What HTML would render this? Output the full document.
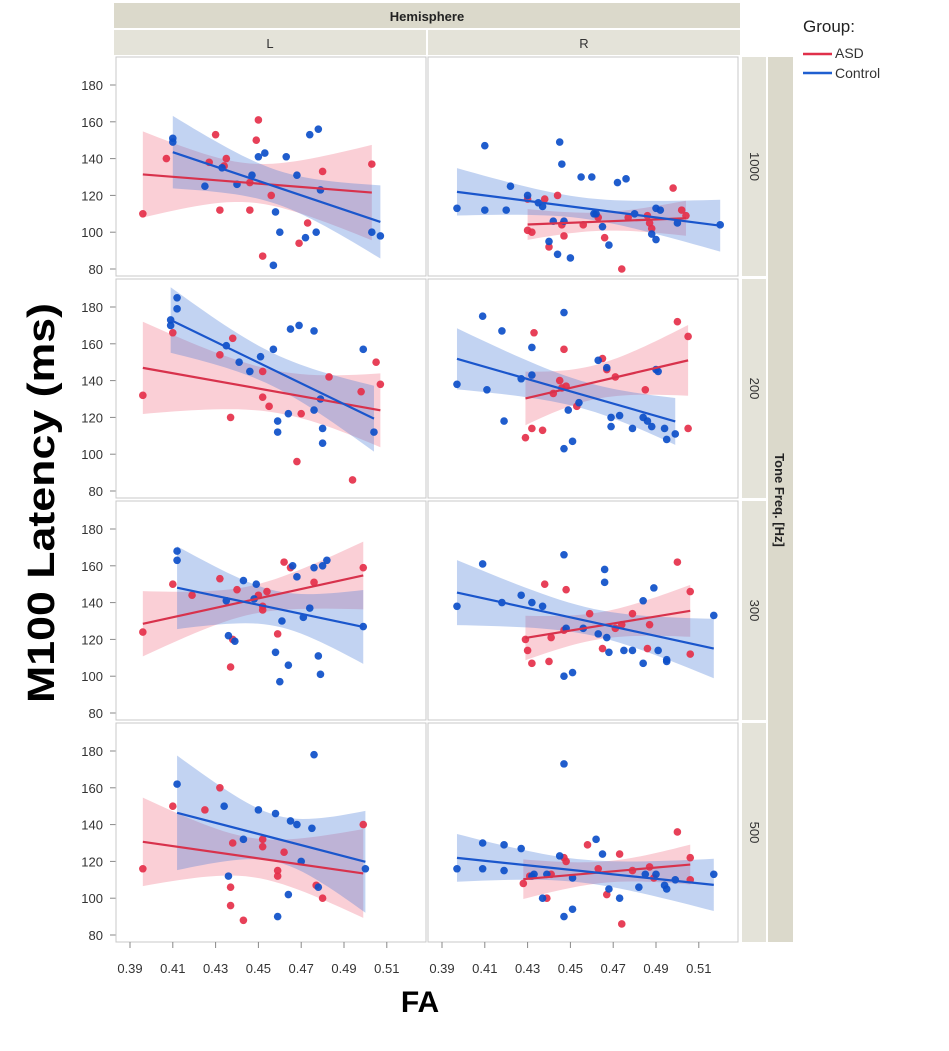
<!DOCTYPE html>
<html><head><meta charset="utf-8"><style>
html,body{margin:0;padding:0;background:#fff;}
svg{display:block;font-family:"Liberation Sans",sans-serif;}
</style></head><body>
<svg id="chart" width="949" height="1051" xmlns="http://www.w3.org/2000/svg">
<rect x="114" y="3" width="626" height="25" fill="#dbd9cb"/>
<text x="427" y="21" text-anchor="middle" font-size="13" font-weight="bold" fill="#222">Hemisphere</text>
<rect x="114" y="30" width="312" height="25" fill="#e4e3d9"/>
<rect x="428" y="30" width="312" height="25" fill="#e4e3d9"/>
<text x="270" y="48" text-anchor="middle" font-size="13" fill="#333">L</text>
<text x="584" y="48" text-anchor="middle" font-size="13" fill="#333">R</text>
<rect x="768" y="57" width="25" height="885" fill="#dbd9cb"/>
<text transform="translate(775,500) rotate(90)" text-anchor="middle" font-size="13" font-weight="bold" fill="#222">Tone Freq. [Hz]</text>
<text transform="translate(54,503) rotate(-90)" text-anchor="middle" font-size="38" font-weight="bold" fill="#000" textLength="400" lengthAdjust="spacingAndGlyphs">M100 Latency (ms)</text>
<text x="420" y="1012" text-anchor="middle" font-size="30" font-weight="bold" fill="#000">FA</text>
<g>
<text x="803" y="32" font-size="17" fill="#222">Group:</text>
<line x1="803" y1="54" x2="832" y2="54" stroke="#e0304a" stroke-width="2.5"/>
<text x="835" y="58" font-size="14" fill="#333">ASD</text>
<line x1="803" y1="73" x2="832" y2="73" stroke="#1f5fd0" stroke-width="2.5"/>
<text x="835" y="78" font-size="14" fill="#333">Control</text>
</g>
<g id="plots"></g>
</svg>
<script>
const hemis = ["L","R"];
const freqs = ["1000","200","300","500"];
const yTicks = [80,100,120,140,160,180];
const xTicks = [0.39,0.41,0.43,0.45,0.47,0.49,0.51];
const asdL1000 = [[0.396,110],[0.407,140],[0.427,138],[0.43,153],[0.432,112],[0.434,136],[0.435,140],[0.446,127],[0.446,112],[0.449,150],[0.45,161],[0.452,87],[0.456,120],[0.469,94],[0.473,105],[0.48,133],[0.503,137]];
const ctlL1000 = [[0.41,151],[0.41,149],[0.425,125],[0.433,135],[0.44,126],[0.447,131],[0.45,141],[0.453,143],[0.457,82],[0.458,111],[0.46,100],[0.463,141],[0.468,131],[0.472,97],[0.474,153],[0.478,156],[0.477,100],[0.479,123],[0.503,100],[0.507,98]];
const asdR1000 = [[0.43,118],[0.43,101],[0.432,100],[0.438,118],[0.44,92],[0.444,120],[0.446,104],[0.447,98],[0.456,104],[0.463,108],[0.466,97],[0.474,80],[0.477,108],[0.486,109],[0.488,102],[0.498,124],[0.502,112],[0.504,109],[0.487,105]];
const ctlR1000 = [[0.397,113],[0.41,147],[0.41,112],[0.42,112],[0.422,125],[0.43,120],[0.435,116],[0.437,114],[0.44,95],[0.442,106],[0.444,88],[0.445,149],[0.446,137],[0.447,106],[0.45,86],[0.455,130],[0.46,130],[0.461,110],[0.462,110],[0.465,103],[0.468,93],[0.472,127],[0.476,129],[0.48,110],[0.488,99],[0.49,96],[0.49,113],[0.492,112],[0.5,105],[0.52,104]];
const asdL200 = [[0.396,132],[0.41,166],[0.432,154],[0.437,120],[0.438,163],[0.452,145],[0.452,131],[0.468,96],[0.483,142],[0.494,86],[0.498,134],[0.505,150],[0.507,138],[0.455,126],[0.47,122]];
const ctlL200 = [[0.409,170],[0.409,173],[0.412,185],[0.412,179],[0.435,159],[0.441,150],[0.446,145],[0.451,153],[0.457,157],[0.459,112],[0.459,118],[0.465,168],[0.469,170],[0.476,167],[0.464,122],[0.476,124],[0.479,130],[0.48,114],[0.499,157],[0.504,112],[0.48,106]];
const asdR200 = [[0.429,109],[0.432,114],[0.433,166],[0.437,113],[0.442,133],[0.446,136],[0.447,157],[0.448,137],[0.453,126],[0.465,152],[0.467,146],[0.471,142],[0.485,135],[0.5,172],[0.505,164],[0.505,114],[0.445,140]];
const ctlR200 = [[0.397,138],[0.409,175],[0.411,135],[0.418,167],[0.419,118],[0.427,141],[0.432,143],[0.432,158],[0.447,177],[0.447,103],[0.451,107],[0.449,124],[0.454,128],[0.463,151],[0.467,147],[0.469,115],[0.469,120],[0.473,121],[0.479,114],[0.484,120],[0.486,118],[0.488,115],[0.49,146],[0.491,145],[0.495,108],[0.494,114],[0.499,111]];
const asdL300 = [[0.396,124],[0.41,150],[0.419,144],[0.432,153],[0.437,105],[0.438,120],[0.44,147],[0.45,144],[0.452,138],[0.454,146],[0.459,123],[0.462,162],[0.465,159],[0.476,151],[0.499,159],[0.452,136]];
const ctlL300 = [[0.412,168],[0.412,163],[0.435,141],[0.436,122],[0.439,119],[0.443,152],[0.449,150],[0.458,113],[0.46,97],[0.464,106],[0.466,160],[0.468,154],[0.471,132],[0.476,159],[0.48,160],[0.482,163],[0.474,137],[0.478,111],[0.479,101],[0.499,127],[0.448,142],[0.461,130]];
const asdR300 = [[0.429,120],[0.43,114],[0.432,107],[0.438,150],[0.44,108],[0.441,121],[0.447,125],[0.448,147],[0.459,134],[0.471,126],[0.474,128],[0.479,134],[0.487,128],[0.486,115],[0.5,162],[0.506,146],[0.506,112],[0.465,115]];
const ctlR300 = [[0.397,138],[0.409,161],[0.418,140],[0.427,144],[0.432,140],[0.437,138],[0.447,166],[0.447,100],[0.451,102],[0.448,126],[0.456,126],[0.463,123],[0.466,158],[0.466,151],[0.467,121],[0.468,113],[0.475,114],[0.479,114],[0.484,107],[0.489,148],[0.491,114],[0.495,108],[0.495,109],[0.517,133],[0.484,141]];
const asdL500 = [[0.396,116],[0.41,150],[0.425,148],[0.432,160],[0.437,106],[0.437,96],[0.438,130],[0.443,88],[0.452,132],[0.452,128],[0.459,115],[0.459,112],[0.462,125],[0.477,107],[0.48,100],[0.499,140]];
const ctlL500 = [[0.412,162],[0.434,150],[0.436,112],[0.443,132],[0.45,148],[0.458,146],[0.459,90],[0.464,102],[0.465,142],[0.468,140],[0.47,120],[0.475,138],[0.476,178],[0.478,106],[0.5,116]];
const asdR500 = [[0.428,108],[0.431,112],[0.439,100],[0.441,113],[0.447,122],[0.448,120],[0.458,129],[0.463,116],[0.467,102],[0.473,124],[0.474,86],[0.479,115],[0.487,117],[0.489,111],[0.5,136],[0.506,122],[0.506,110]];
const ctlR500 = [[0.397,116],[0.409,130],[0.409,116],[0.419,129],[0.419,115],[0.427,127],[0.432,112],[0.437,100],[0.439,113],[0.445,123],[0.447,173],[0.447,90],[0.451,94],[0.451,111],[0.462,132],[0.465,124],[0.468,105],[0.473,100],[0.482,106],[0.485,113],[0.49,113],[0.494,107],[0.495,105],[0.499,110],[0.517,113],[0.433,113]];

const panelData = {
  "L-1000":[asdL1000,ctlL1000],"R-1000":[asdR1000,ctlR1000],
  "L-200":[asdL200,ctlL200],"R-200":[asdR200,ctlR200],
  "L-300":[asdL300,ctlL300],"R-300":[asdR300,ctlR300],
  "L-500":[asdL500,ctlL500],"R-500":[asdR500,ctlR500]
};
const NS="http://www.w3.org/2000/svg";
const root=document.getElementById('plots');
function mk(tag,attrs,parent){const e=document.createElementNS(NS,tag);for(const k in attrs)e.setAttribute(k,attrs[k]);(parent||root).appendChild(e);return e;}
const colX=[116,428], colW=310;
const rowY=[57,279,501,723], rowH=219;
function xScale(col,v){return colX[col]+14+(v-0.39)/0.02*42.8;}
function yScale(row,v){return rowY[row]+28+(180-v)*1.84;}
function fit(pts){
  const n=pts.length;let mx=0,my=0;pts.forEach(p=>{mx+=p[0];my+=p[1];});mx/=n;my/=n;
  let sxx=0,sxy=0;pts.forEach(p=>{sxx+=(p[0]-mx)**2;sxy+=(p[0]-mx)*(p[1]-my);});
  const b=sxy/sxx,a=my-b*mx;let sse=0;pts.forEach(p=>{sse+=(p[1]-a-b*p[0])**2;});
  const s=Math.sqrt(sse/(n-2));
  const xs=pts.map(p=>p[0]);return {a,b,s,n,mx,sxx,min:Math.min(...xs),max:Math.max(...xs)};
}
const colors=[{pt:"#e5304a",line:"#d8324c",band:"rgba(240,110,130,0.33)"},{pt:"#0d4fc9",line:"#1a56cc",band:"rgba(70,120,215,0.33)"}];
const groupNames=["asd","control"];
freqs.forEach((f,r)=>{
  const st=mk('rect',{x:742,y:rowY[r],width:24,height:rowH,fill:"#e4e3d9"});
  
  
  const sl=mk('text',{transform:`translate(750,${rowY[r]+rowH/2}) rotate(90)`,'text-anchor':'middle','font-size':13,fill:'#333'});
  sl.textContent=f;
  
  
  yTicks.forEach(t=>{
    const y=yScale(r,t);
    const tl=mk('line',{x1:110,x2:116,y1:y,y2:y,stroke:'#888'});
    
    
    const tx=mk('text',{x:103,y:y+5,'text-anchor':'end','font-size':13,fill:'#333'});
    tx.textContent=t;
    
    
  });
  hemis.forEach((h,c)=>{
    const key=h+'-'+f;
    const g=mk('g',{});
    
    
    mk('rect',{x:colX[c],y:rowY[r],width:colW,height:rowH,fill:'#fff',stroke:'#c8c8c8'},g);
    const clipId='clip'+c+r;
    const cp=mk('clipPath',{id:clipId},g);mk('rect',{x:colX[c],y:rowY[r],width:colW,height:rowH},cp);
    const inner=mk('g',{'clip-path':`url(#${clipId})`},g);
    const groups=panelData[key];
    groups.forEach((pts,gi)=>{
      const F=fit(pts);const t=2.03;
      let up=[],lo=[];
      for(let i=0;i<=30;i++){const x=F.min+(F.max-F.min)*i/30;const yh=F.a+F.b*x;
        const se=F.s*Math.sqrt(1/F.n+(x-F.mx)**2/F.sxx);
        up.push([xScale(c,x),yScale(r,yh+t*se)]);lo.push([xScale(c,x),yScale(r,yh-t*se)]);}
      const d='M'+up.map(p=>p.join(',')).join('L')+'L'+lo.reverse().map(p=>p.join(',')).join('L')+'Z';
      const band=mk('path',{d,fill:colors[gi].band},inner);
      
      
    });
    groups.forEach((pts,gi)=>{
      pts.forEach(p=>{
        const cc=mk('circle',{cx:xScale(c,p[0]),cy:yScale(r,p[1]),r:3.8,fill:colors[gi].pt,'fill-opacity':0.92},inner);
        
        
      });
    });
    groups.forEach((pts,gi)=>{
      const F=fit(pts);
      const ln=mk('line',{x1:xScale(c,F.min),y1:yScale(r,F.a+F.b*F.min),x2:xScale(c,F.max),y2:yScale(r,F.a+F.b*F.max),stroke:colors[gi].line,'stroke-width':2.2},inner);
      
      
    });
  });
});
hemis.forEach((h,c)=>{
  xTicks.forEach(t=>{
    const x=xScale(c,t);
    const tl=mk('line',{x1:x,x2:x,y1:942,y2:948,stroke:'#888'});
    
    
    const tx=mk('text',{x:x,y:973,'text-anchor':'middle','font-size':13,fill:'#333'});
    tx.textContent=t.toFixed(2);
    
    
  });
});
</script>
</body></html>
